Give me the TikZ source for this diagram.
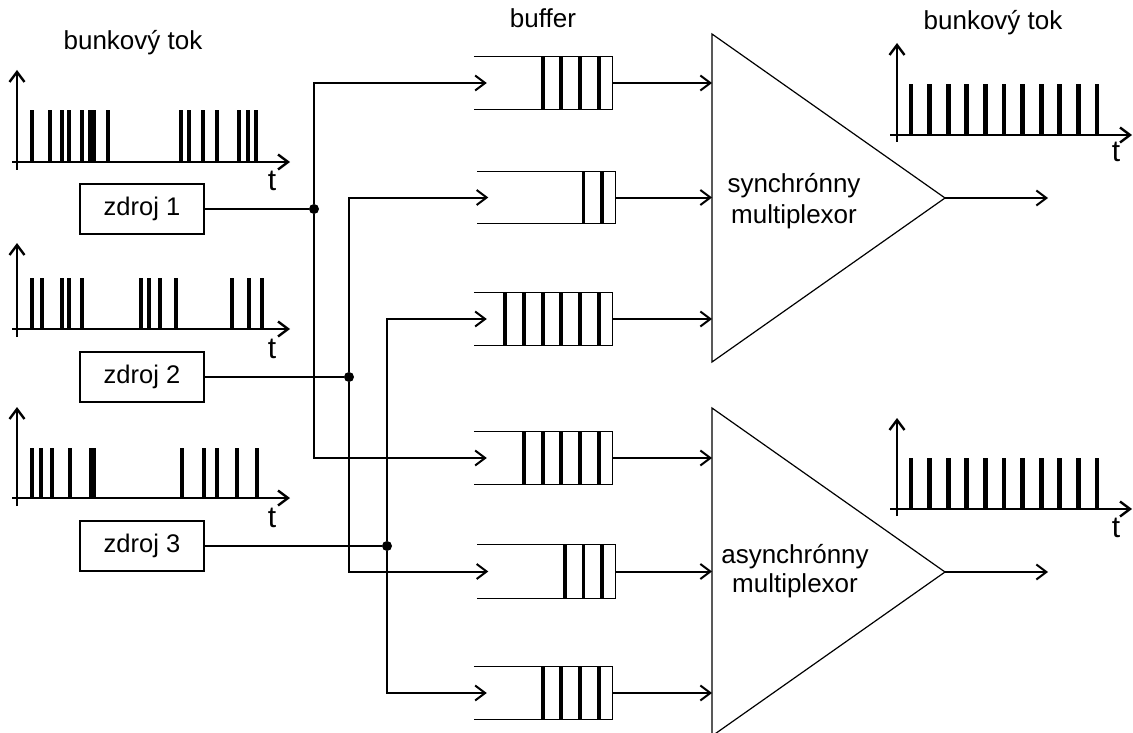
\documentclass[tikz,border=0pt]{standalone}
\usepackage{fontspec}
\setmainfont{Liberation Sans}
\usetikzlibrary{positioning}
\usetikzlibrary {arrows.meta}
\tikzset{zdroj/.style={rectangle,draw=black,line width=1.2pt,fill=white,
inner sep=2pt,minimum height=50pt, minimum width=124pt,font=\fontsize{25.5}{30}\selectfont}}
\tikzset{bufferbox/.style={rectangle,draw=none,
inner sep=0pt,minimum height=52pt, minimum width=138pt}}
\tikzset{junction/.style={circle,fill=black,inner sep=0pt,minimum size=10pt}}
\tikzset{txt/.style={inner sep=0pt,font=\fontsize{26}{30}\selectfont}}
\tikzset{tlabel/.style={inner sep=0pt,anchor=base,font=\fontsize{30}{30}\selectfont}}
\tikzset{cellbar/.style={line width=4.8pt}}
\tikzset{bufbar/.style={line width=3.8pt}}
\tikzset{axis/.style={line width=2.4pt,-{Straight Barb[length=10pt,width=15pt]}}}
\tikzset{wire/.style={line width=2pt,-{Straight Barb[length=10pt,width=15pt]}}}

\begin{document}
\begin{tikzpicture}[x=1pt,y=-1pt]
    \useasboundingbox (0,0) rectangle (1133,733);

    % input cell streams
    \foreach \ya/\yt in {162/70, 329/243, 498/407} {
        \draw[axis] (17,{\ya+8}) -- (17,\yt);
        \draw[axis] (12,\ya) -- (290,\ya);
    }
    \foreach \bx in {32,50,62,69,82,90.5,93.5,108,181,189,203,217,239,248,256}
        \draw[cellbar] (\bx,162) -- (\bx,110);
    \foreach \bx in {32,42,62,69,82,141,149,160,176,232,249,262}
        \draw[cellbar] (\bx,329) -- (\bx,278);
    \foreach \bx in {32,41,52,70,91,94,182,204,217,237,257}
        \draw[cellbar] (\bx,498) -- (\bx,448);

    \node[txt,anchor=base] (tokA) at (133,50) {bunkový tok};
    \node[tlabel] (tA) at (272,190) {t};
    \node[tlabel] (tB) at (272,358) {t};
    \node[tlabel] (tC) at (272,527) {t};

    % sources
    \node[zdroj] (zdroj1) at (142,209) {zdroj 1};
    \node[zdroj] (zdroj2) at (142,377) {zdroj 2};
    \node[zdroj] (zdroj3) at (142,546) {zdroj 3};

    \node[junction] (dot1) at (314,209) {};
    \node[junction] (dot2) at (349,377) {};
    \node[junction] (dot3) at (387,546) {};

    % buffers
    \node[bufferbox] (buf1) at (543,83) {};
    \node[bufferbox, minimum height=51pt] (buf2) at (546.5,197.5) {};
    \node[bufferbox] (buf3) at (543,319) {};
    \node[bufferbox] (buf4) at (543,458) {};
    \node[bufferbox, minimum height=53pt] (buf5) at (546.5,571.5) {};
    \node[bufferbox] (buf6) at (543,693) {};
    \node[txt, above=29pt of buf1] (bufferlbl) {buffer};

    \foreach \b/\n in {buf1/4,buf2/2,buf3/6,buf4/5,buf5/3,buf6/4} {
        \draw[line width=1.2pt] (\b.north west) -- (\b.north east)
            -- (\b.south east) -- (\b.south west);
        \foreach \k in {1,...,\n}
            \draw[bufbar] ([xshift={-13.5-18.7*(\k-1)}]\b.north east)
                -- ([xshift={-13.5-18.7*(\k-1)}]\b.south east);
    }

    \draw[line width=2pt] (zdroj1) -- (dot1);
    \draw[line width=2pt] (zdroj2) -- (dot2);
    \draw[line width=2pt] (zdroj3) -- (dot3);

    \draw[wire] (dot1) |- ([xshift=13pt]buf1.west);
    \draw[wire] (dot1) |- ([xshift=13pt]buf4.west);
    \draw[wire] (dot2) |- ([xshift=11pt]buf2.west);
    \draw[wire] (dot2) |- ([xshift=11pt]buf5.west);
    \draw[wire] (dot3) |- ([xshift=13pt]buf3.west);
    \draw[wire] (dot3) |- ([xshift=13pt]buf6.west);

    % multiplexors
    \coordinate (muxAtop) at (712,34);
    \coordinate (muxAapex) at (945,198);
    \coordinate (muxAbot) at (712,362);
    \coordinate (muxBtop) at (712,408);
    \coordinate (muxBapex) at (945,572);
    \coordinate (muxBbot) at (712,736);
    \draw[line width=1.2pt] (muxAtop) -- (muxAapex) -- (muxAbot) -- cycle;
    \draw[line width=1.2pt] (muxBtop) -- (muxBapex) -- (muxBbot) -- cycle;

    \foreach \b in {buf1,buf2,buf3}
        \draw[wire] (\b.east) -- (\b.east -| muxAtop);
    \foreach \b in {buf4,buf5,buf6}
        \draw[wire] (\b.east) -- (\b.east -| muxBtop);

    \node[txt,anchor=base] (syncA) at (794,193) {synchrónny};
    \node[txt,anchor=base] (syncB) at (794,223) {multiplexor};
    \node[txt,anchor=base] (asyncA) at (795,563) {asynchrónny};
    \node[txt,anchor=base] (asyncB) at (795,592) {multiplexor};

    \coordinate (outA) at (1048,198);
    \coordinate (outB) at (1048,572);
    \draw[wire] (muxAapex) -- (outA);
    \draw[wire] (muxBapex) -- (outB);

    % output cell streams
    \foreach \ya/\yt/\yb in {135/43/84, 509/418/458} {
        \draw[axis] (897,{\ya+7}) -- (897,\yt);
        \draw[axis] (890,\ya) -- (1132,\ya);
        \foreach \k in {0,...,10}
            \draw[cellbar] ({911+18.6*\k},\ya) -- ({911+18.6*\k},\yb);
    }
    \node[txt,anchor=base] (tokB) at (993,30) {bunkový tok};
    \node[tlabel] (tD) at (1116,162) {t};
    \node[tlabel] (tE) at (1116,537) {t};

\end{tikzpicture}
\end{document}
